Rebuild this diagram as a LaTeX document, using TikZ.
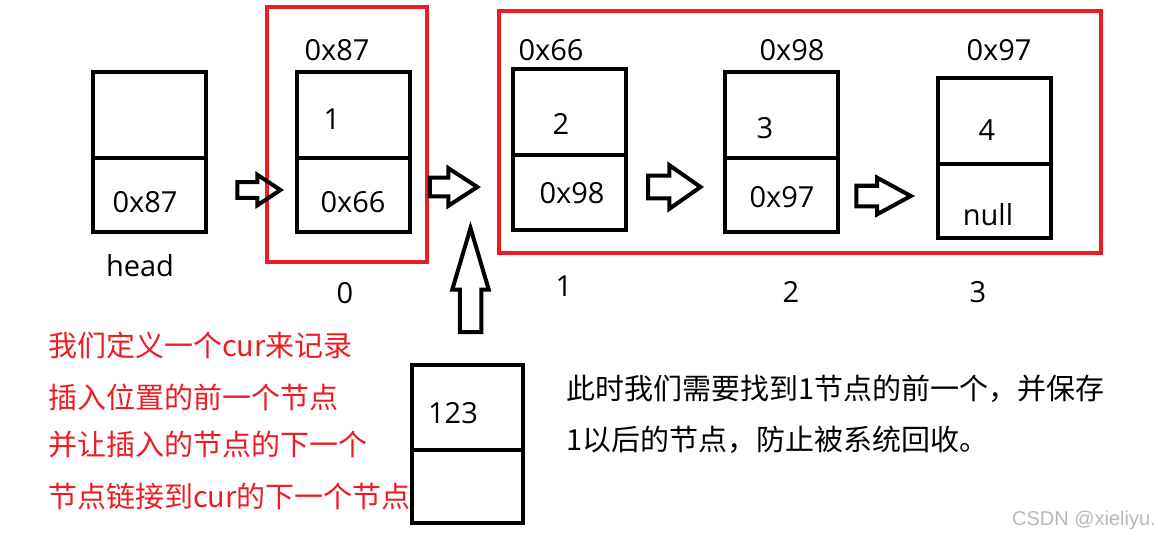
\documentclass[tikz,border=0pt]{standalone}
\usepackage{fontspec}
\setmainfont{Open Sans}
\newfontfamily\cjk{Noto Sans CJK SC}
\newfontfamily\markfont{Liberation Sans}
\usetikzlibrary{shapes.arrows}
\definecolor{paintred}{HTML}{ED1C24}

\begin{document}
\begin{tikzpicture}[x=1pt, y=-1pt,
  cell/.style={draw, line width=4pt, minimum width=113pt, minimum height=160pt, inner sep=0pt},
  lbl/.style={font=\fontsize{29}{35}\selectfont, inner sep=0pt},
  note/.style={font=\cjk\fontsize{29}{35}\selectfont, anchor=west, inner sep=0pt},
  frame/.style={draw=paintred, line width=4pt},
  hollow/.style={draw, single arrow, line width=4pt, inner xsep=0pt, single arrow head indent=0pt, anchor=tip}]
\useasboundingbox (0,0) rectangle (1158,540);

% list cells
\node[cell] (head) at (149.5,152) {};
\node[cell] (n0) at (353.5,152) {};
\node[cell] (n1) at (569.5,149.5) {};
\node[cell] (n2) at (781,152) {};
\node[cell] (n3) at (994.5,158) {};
\node[cell, minimum width=111pt, minimum height=158pt] (ins) at (467.5,444) {};
\foreach \c in {head,n0,n1,n2,n3,ins}
  \draw[line width=4pt] ([yshift=-6pt]\c.west) -- ([yshift=-6pt]\c.east);

% red frames
\draw[frame] (267,7) rectangle (427,262);
\draw[frame] (499,11) rectangle (1101,253);

% cell texts
\node[lbl] (headval) at (145,202) {0x87};
\node[lbl] (headname) at (140,266) {head};
\node[lbl] (addr0) at (337,50) {0x87};
\node[lbl] (val0) at (332,119) {1};
\node[lbl] (next0) at (353,202) {0x66};
\node[lbl] (idx0) at (345,293) {0};
\node[lbl] (addr1) at (551,50) {0x66};
\node[lbl] (val1) at (561,124) {2};
\node[lbl] (next1) at (572,193) {0x98};
\node[lbl] (idx1) at (564,286) {1};
\node[lbl] (addr2) at (792,50) {0x98};
\node[lbl] (val2) at (765,128) {3};
\node[lbl] (next2) at (782,197) {0x97};
\node[lbl] (idx2) at (791,292) {2};
\node[lbl] (addr3) at (999,50) {0x97};
\node[lbl] (val3) at (987,130) {4};
\node[lbl] (next3) at (988,215) {null};
\node[lbl] (idx3) at (978,292) {3};
\node[lbl] (insval) at (453,413) {123};

% hollow arrows
\node[hollow, minimum height=43pt, inner ysep=5.75pt, single arrow head extend=7.5pt, single arrow tip angle=67] (a0) at (284,190) {};
\node[hollow, minimum height=47.5pt, inner ysep=7.25pt, single arrow head extend=9.5pt, single arrow tip angle=66] (a1) at (481,187) {};
\node[hollow, minimum height=52.5pt, inner ysep=9.25pt, single arrow head extend=10.5pt, single arrow tip angle=70] (a2) at (704,187) {};
\node[hollow, minimum height=54.5pt, inner ysep=8.25pt, single arrow head extend=8pt, single arrow tip angle=57] (a3) at (915,196) {};
\node[hollow, rotate=90, minimum height=104pt, inner ysep=8.75pt, single arrow head extend=7.5pt, single arrow tip angle=33] (up) at (470.5,221) {};

% notes
\node[note, text=paintred] (c1) at (48,345) {我们定义一个cur来记录};
\node[note, text=paintred] (c2) at (48,397) {插入位置的前一个节点};
\node[note, text=paintred] (c3) at (48,445) {并让插入的节点的下一个};
\node[note, text=paintred] (c4) at (48,496) {节点链接到cur的下一个节点};
\node[note] (m1) at (566,389) {此时我们需要找到1节点的前一个，并保存};
\node[note] (m2) at (566,440) {1以后的节点，防止被系统回收。};
\node[font=\markfont\fontsize{20}{24}\selectfont, text=gray!55, anchor=east, inner sep=0pt] (mark) at (1156,520) {CSDN @xieliyu.};
\end{tikzpicture}
\end{document}
